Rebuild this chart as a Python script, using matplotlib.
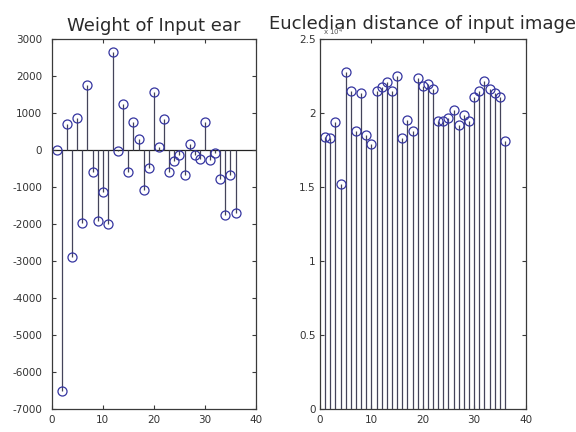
import numpy as np
import matplotlib.pyplot as plt
from matplotlib.ticker import FuncFormatter

# sample index, 36 ear images
idx = np.arange(1, 37)

# weight of the input ear per sample
weights = [0, -6500, 720, -2880, 880, -1960, 1760, -580, -1920, -1120,
           -2000, 2660, -20, 1260, -580, 750, 300, -1080, -470, 1580,
           90, 840, -580, -290, -140, -670, 160, -140, -240, 750,
           -270, -90, -780, -1750, -670, -1690]

# eucledian distance of the input image to each sample
distances = [18400, 18300, 19400, 15200, 22800, 21500, 18800, 21350, 18500, 17900,
             21500, 21750, 22100, 21500, 22500, 18300, 19550, 18800, 22400, 21800,
             22000, 21600, 19500, 19500, 19700, 20200, 19200, 19900, 19500, 21100,
             21500, 22150, 21600, 21350, 21100, 18150]

plt.rcParams['font.family'] = 'DejaVu Sans'
plt.rcParams['axes.unicode_minus'] = False

stem_col = '#44445a'
mark_col = '#3535a0'
axis_col = '#3a3a3a'

fig = plt.figure(figsize=(5.76, 4.32), dpi=100)
ax1 = fig.add_axes([0.0898, 0.0525, 0.3547, 0.857])
ax2 = fig.add_axes([0.5556, 0.0525, 0.3568, 0.857])


def style_stem(cont):
    markerline, stemlines, baseline = cont
    markerline.set_markerfacecolor('none')
    markerline.set_markeredgecolor(mark_col)
    markerline.set_markersize(6.5)
    markerline.set_markeredgewidth(0.9)
    stemlines.set_color(stem_col)
    stemlines.set_linewidth(0.9)
    baseline.set_visible(False)


def style_axes(ax, ypad):
    for sp in ax.spines.values():
        sp.set_color(axis_col)
        sp.set_linewidth(0.9)
    ax.tick_params(direction='in', length=3, width=0.8, colors=axis_col,
                   top=True, right=True, labelsize=7.5, labelcolor='#333333')
    ax.tick_params(axis='y', pad=ypad)
    ax.tick_params(axis='x', pad=4)
    ax.set_xlim(0, 40)
    ax.set_xticks([0, 10, 20, 30, 40])


# left: weights
style_stem(ax1.stem(idx, weights))
ax1.axhline(0, color='#222222', lw=0.9, zorder=1)
ax1.set_ylim(-7000, 3000)
ax1.set_yticks(np.arange(-7000, 3001, 1000))
style_axes(ax1, 7)
ax1.set_title('Weight of Input ear', fontsize=13, color='#2a2a2a', pad=6)

# right: distances
style_stem(ax2.stem(idx, distances))
ax2.set_ylim(0, 25000)
ax2.set_yticks(np.arange(0, 25001, 5000))
ax2.yaxis.set_major_formatter(FuncFormatter(lambda v, p: f'{v / 1e4:g}'))
style_axes(ax2, 3)
ax2.text(0.015, 1.002, r'x 10$^{4}$', transform=ax2.transAxes, fontsize=5,
         color='#555555', va='bottom', ha='left')
ax2.set_title('Eucledian distance of input image', fontsize=13,
              color='#2a2a2a', pad=7)

fig.savefig('out.png', dpi=100, facecolor='white')
